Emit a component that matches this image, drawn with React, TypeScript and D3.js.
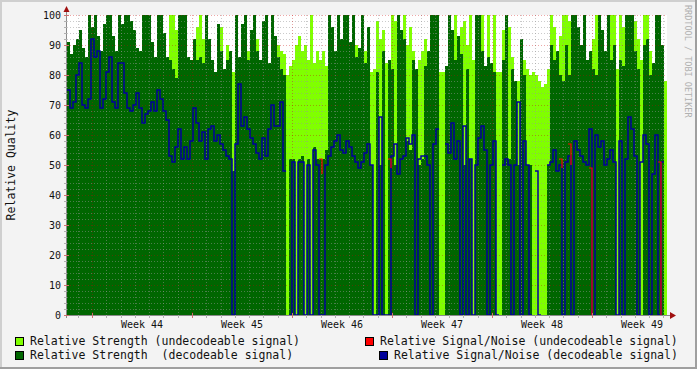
import React from 'react';
import * as d3 from 'd3';

// ---- data (one value per 3px column, 200 columns over 6 weeks) ----
const strengthDecodeable: number[] = [
  91, 87, 90, 92, 95, 89, 86, 100, 96, 100, 93, 88, 97, 100, 100, 93, 88, 100, 97, 100,
  100, 98, 95, 89, 88, 100, 100, 100, 91, 86, 100, 100, 94, 86, 85, 82, 79, 100, 100, 100,
  86, 85, 92, 85, 86, 84, 100, 92, 85, 81,
  97, 88, 82, 85, 88, 48, 100, 86, 97, 100, 85, 95, 100, 88, 85, 98, 100, 84, 100, 93,
  86, 82, 80, 0, 52, 52, 0, 52, 53, 0, 52, 0, 56, 52, 52, 52, 55, 100, 96, 88,
  100, 92, 100, 100, 91, 100, 86, 89, 100, 84,
  96, 50, 0, 81, 50, 88, 0, 85, 82, 50, 100, 95, 92, 58, 55, 85, 82, 50, 52, 83,
  88, 100, 100, 100, 0, 0, 83, 100, 95, 85, 93, 87, 50, 82, 52, 0, 100, 100, 88, 83,
  86, 84, 81, 0, 0, 85, 100, 52, 82, 78,
  50, 92, 80, 50, 50, 0, 0, 0, 0, 0, 50, 90, 85, 88, 80, 78, 90, 80, 100, 100,
  96, 90, 100, 85, 88, 82, 80, 100, 95, 88, 100, 85, 90, 0, 85, 83, 100, 100, 100, 88,
  82, 0, 90, 92, 80, 84, 100, 100, 90, 0,
];

const strengthUndecodeable: number[] = [
  0, 0, 0, 0, 0, 0, 0, 0, 0, 0, 0, 0, 0, 0, 0, 0, 0, 0, 0, 0,
  0, 0, 0, 0, 0, 0, 0, 0, 0, 0, 0, 0, 0, 0, 100, 100, 95, 0, 0, 0,
  0, 0, 0, 96, 100, 92, 0, 0, 0, 0,
  0, 96, 0, 90, 0, 81, 0, 0, 0, 0, 88, 0, 0, 92, 0, 0, 0, 0, 0, 0,
  90, 88, 87, 80, 83, 85, 90, 93, 88, 90, 85, 100, 84, 88, 85, 88, 83, 0, 0, 0,
  0, 0, 0, 0, 0, 0, 90, 0, 0, 88,
  0, 81, 82, 98, 92, 95, 84, 0, 100, 98, 0, 0, 100, 90, 96, 88, 0, 85, 88, 92,
  0, 0, 0, 0, 81, 81, 0, 0, 0, 100, 0, 96, 98, 90, 100, 85, 0, 0, 100, 0,
  100, 0, 100, 81, 81, 95, 0, 96, 86, 0,
  78, 0, 85, 82, 80, 81, 80, 78, 76, 77, 82, 100, 96, 0, 93, 100, 100, 98, 0, 0,
  0, 0, 0, 0, 0, 92, 100, 0, 0, 0, 0, 100, 100, 82, 100, 96, 0, 0, 0, 98,
  92, 85, 100, 100, 88, 0, 0, 0, 0, 78,
];

const snrDecodeable: (number | null)[] = [
  75, 69, 71, 80, 84, 70, 69, 72, 92, 86, 88, 69, 72, 81, 86, 71, 69, 84, 84, 74,
  69, 68, 70, 74, 69, 64, 67, 68, 71, 68, 75, 72, 68, 65, 53, 51, 56, 62, 52, 56,
  52, 58, 69, 64, 58, 61, 52, 62, 63, 58,
  60, 57, 55, 53, 52, 0, 57, 77, 63, 66, 62, 59, 57, 54, 52, 59, 53, 62, 70, 63,
  63, 71, 48, null, 0, 51, 0, 51, 51, 0, 50, 0, 55, 50, 0, 0, 50, 53, 56, 58,
  60, 55, 54, 58, 56, 53, 51, 49, 51, 54,
  57, 50, 0, 0, 66, 0, 0, 0, 53, 57, 47, 52, 53, 59, 57, 60, 0, 52, 53, 53,
  50, 0, 57, 62, null, null, 57, 54, 64, 52, 58, 0, 63, 0, 52, 0, 50, 59, 63, 55,
  0, 50, 58, 0, null, 50, 52, 50, 0, 50,
  71, 0, 58, 50, 0, null, 48, 0, null, null, 50, 51, 55, 48, 50, 0, 51, 53, 0, 58,
  55, 53, 51, 50, 62, 0, 60, 56, 58, 50, 52, 55, 51, 0, 58, 0, 52, 66, 62, 53,
  0, 51, 60, 57, 0, 47, 60, 0, 51, null,
];

// [column, value] pairs where the undecodeable S/N was recorded
const snrUndecodeablePoints: [number, number][] = [
  [84, 52], [85, 47], [107, 52], [108, 49], [164, 52], [165, 49],
  [167, 57], [168, 50], [174, 49], [175, 0], [197, 51], [198, 0],
];

const yTicks = [0, 10, 20, 30, 40, 50, 60, 70, 80, 90, 100];
const weekLabels = ['Week 44', 'Week 45', 'Week 46', 'Week 47', 'Week 48', 'Week 49'];
const totalDays = 42;
const firstDayLine = 0.75;
const firstWeekLine = 1.75;

const legendItems = [
  { label: 'Relative Strength (undecodeable signal)', color: '#80ff00', x: 15, row: 0 },
  { label: 'Relative Signal/Noise (undecodeable signal)', color: '#ff0000', x: 365, row: 0 },
  { label: 'Relative Strength  (decodeable signal)', color: '#006600', x: 15, row: 1 },
  { label: 'Relative Signal/Noise (decodeable signal)', color: '#000099', x: 379, row: 1 },
];

const MONO = '"DejaVu Sans Mono", "Liberation Mono", monospace';

export default function App() {
  const W = 697, H = 369;
  const left = 67, right = 667, top = 15, bottom = 315;
  const n = strengthDecodeable.length;
  const xCol = d3.scaleLinear().domain([0, n]).range([left, right]);
  const xDay = d3.scaleLinear().domain([0, totalDays]).range([left, right]);
  const y = d3.scaleLinear().domain([0, 100]).range([bottom, top]);

  const dayLines = d3.range(firstDayLine, totalDays, 1).filter(
    (d) => Math.abs(((d - firstWeekLine) % 7 + 7) % 7) > 0.01
  );
  const weekLines = d3.range(firstWeekLine, totalDays, 7);
  const minorY = d3.range(2, 100, 2).filter((v) => v % 10 !== 0);
  const majorY = yTicks.filter((v) => v > 0);

  const bluePts: [number, number | null][] = [];
  snrDecodeable.forEach((v, i) => {
    if (v == null) bluePts.push([xCol(i), null]);
    else {
      bluePts.push([xCol(i), y(v)]);
      bluePts.push([xCol(i + 1), y(v)]);
    }
  });
  const lineGen = d3
    .line<[number, number | null]>()
    .defined((d) => d[1] != null)
    .x((d) => d[0])
    .y((d) => d[1] as number);
  const bluePath = lineGen(bluePts) || '';

  const redArr: (number | null)[] = new Array(n).fill(null);
  snrUndecodeablePoints.forEach(([c, v]) => (redArr[c] = v));
  const redLine = d3
    .line<number | null>()
    .defined((d) => d != null)
    .x((_, i) => xCol(i))
    .y((d) => y(d as number))
    .curve(d3.curveStepAfter);
  const redPath = redLine(redArr) || '';

  const minorStroke = 'rgba(150,150,150,0.5)';
  const majorStroke = 'rgba(200,0,0,0.35)';

  return (
    <svg
      width={W}
      height={H}
      style={{ position: 'absolute', left: 0, top: 0, display: 'block' }}
      xmlns="http://www.w3.org/2000/svg"
    >
      <rect x={0} y={0} width={W} height={H} fill="#f3f3f3" />
      <rect x={0} y={0} width={W} height={2} fill="#cfcfcf" />
      <rect x={0} y={0} width={2} height={H} fill="#cfcfcf" />
      <rect x={0} y={H - 2} width={W} height={2} fill="#9f9f9f" />
      <rect x={W - 2} y={0} width={2} height={H} fill="#9f9f9f" />

      <rect x={left} y={top} width={right - left} height={bottom - top} fill="#ffffff" />

      <g shapeRendering="crispEdges">
        {strengthUndecodeable.map((v, i) =>
          v > 0 ? (
            <rect key={'u' + i} x={xCol(i)} y={y(v)} width={xCol(i + 1) - xCol(i)} height={y(0) - y(v)} fill="#80ff00" />
          ) : null
        )}
        {strengthDecodeable.map((v, i) =>
          v > 0 ? (
            <rect key={'d' + i} x={xCol(i)} y={y(v)} width={xCol(i + 1) - xCol(i)} height={y(0) - y(v)} fill="#006600" />
          ) : null
        )}
      </g>

      <g shapeRendering="crispEdges" strokeDasharray="1,2">
        {minorY.map((v) => (
          <line key={'my' + v} x1={left} x2={right} y1={y(v) + 0.5} y2={y(v) + 0.5} stroke={minorStroke} />
        ))}
        {dayLines.map((d) => (
          <line key={'dx' + d} x1={Math.round(xDay(d)) + 0.5} x2={Math.round(xDay(d)) + 0.5} y1={top} y2={bottom} stroke={minorStroke} />
        ))}
        {majorY.map((v) => (
          <line key={'My' + v} x1={left} x2={right} y1={y(v) + 0.5} y2={y(v) + 0.5} stroke={majorStroke} />
        ))}
        {weekLines.map((d) => (
          <line key={'wx' + d} x1={Math.round(xDay(d)) + 0.5} x2={Math.round(xDay(d)) + 0.5} y1={top} y2={bottom} stroke={majorStroke} />
        ))}
      </g>

      <path d={bluePath} fill="none" stroke="#000099" strokeWidth={1.5} />
      <path d={redPath} fill="none" stroke="#ff0000" strokeWidth={1.2} />

      {/* axes */}
      <g shapeRendering="crispEdges">
        <line x1={left - 2} x2={right + 4} y1={bottom + 0.5} y2={bottom + 0.5} stroke="#8a8a8a" />
        <line x1={left - 0.5} x2={left - 0.5} y1={bottom + 3} y2={top - 4} stroke="#8a8a8a" />
        {dayLines.map((d) => (
          <line key={'tx' + d} x1={Math.round(xDay(d)) + 0.5} x2={Math.round(xDay(d)) + 0.5} y1={bottom} y2={bottom + 3} stroke="#b0b0b0" />
        ))}
        {weekLines.map((d) => (
          <line key={'twx' + d} x1={Math.round(xDay(d)) + 0.5} x2={Math.round(xDay(d)) + 0.5} y1={bottom - 2} y2={bottom + 3} stroke="#d07070" />
        ))}
        {minorY.map((v) => (
          <line key={'ty' + v} x1={left - 3} x2={left} y1={y(v) + 0.5} y2={y(v) + 0.5} stroke="#b0b0b0" />
        ))}
        {yTicks.map((v) => (
          <line key={'tMy' + v} x1={left - 3} x2={left + 2} y1={y(v) + 0.5} y2={y(v) + 0.5} stroke="#d07070" />
        ))}
      </g>
      <path d={`M${left - 3.5},${top - 3} L${left + 2.5},${top - 3} L${left - 0.5},${top - 9} Z`} fill="#a01010" />
      <path d={`M${right + 3},${bottom - 3} L${right + 3},${bottom + 4} L${right + 9},${bottom + 0.5} Z`} fill="#a01010" />

      {yTicks.map((v) => (
        <text key={'yl' + v} x={61} y={y(v)} dy="0.36em" textAnchor="end" fontFamily={MONO} fontSize={10} fill="#111">
          {v}
        </text>
      ))}
      {weekLabels.map((w, k) => (
        <text key={w} x={xDay(firstWeekLine + 3.5 + 7 * k)} y={328} textAnchor="middle" fontFamily={MONO} fontSize={10} fill="#111">
          {w}
        </text>
      ))}

      <text transform={`translate(15,${(top + bottom) / 2}) rotate(-90)`} textAnchor="middle" fontFamily={MONO} fontSize={11.5} fill="#111">
        Relative Quality
      </text>
      <text transform="translate(685,5) rotate(90)" textAnchor="start" fontFamily={MONO} fontSize={8.5} fill="#b0b0b0">
        RRDTOOL / TOBI OETIKER
      </text>

      {legendItems.map((it) => {
        const by = 337 + it.row * 14;
        return (
          <g key={it.label}>
            <rect x={it.x + 0.5} y={by + 0.5} width={8} height={8} fill={it.color} stroke="#000" strokeWidth={1} />
            <text x={it.x + 15} y={by + 8} fontFamily={MONO} fontSize={11.5} fill="#111" style={{ whiteSpace: 'pre' }}>
              {it.label}
            </text>
          </g>
        );
      })}
    </svg>
  );
}
